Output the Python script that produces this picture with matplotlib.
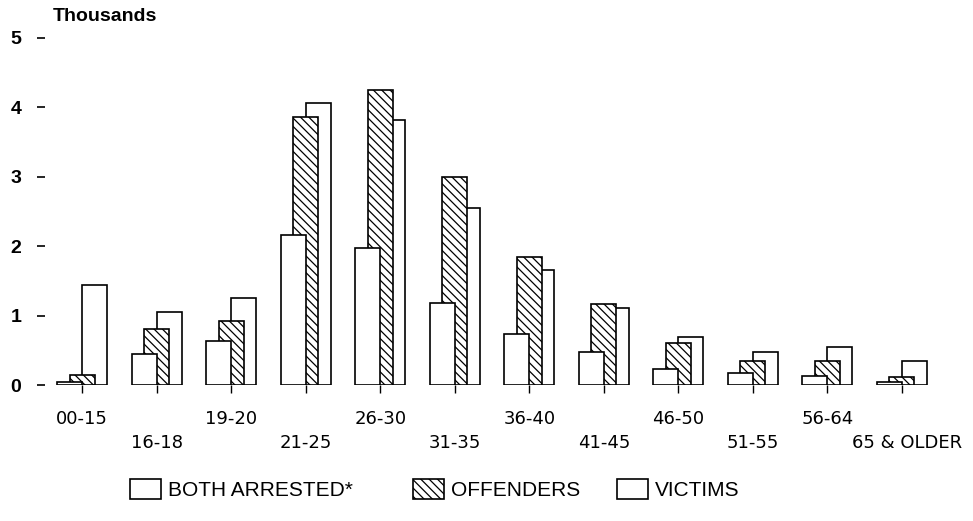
import matplotlib.pyplot as plt
from matplotlib.patches import Patch
from matplotlib.transforms import ScaledTranslation
import numpy as np

# age groups
ages = ['00-15', '16-18', '19-20', '21-25', '26-30', '31-35',
        '36-40', '41-45', '46-50', '51-55', '56-64', '65 & OLDER']

# thousands
both = [0.05, 0.45, 0.63, 2.16, 1.97, 1.18, 0.74, 0.47, 0.23, 0.17, 0.13, 0.05]
offenders = [0.15, 0.80, 0.92, 3.86, 4.25, 3.00, 1.84, 1.16, 0.60, 0.34, 0.34, 0.12]
victims = [1.44, 1.05, 1.25, 4.06, 3.82, 2.55, 1.65, 1.11, 0.69, 0.47, 0.55, 0.34]

x = np.arange(len(ages))
w = 0.335
hatch = '\\\\\\\\'

plt.rcParams['hatch.linewidth'] = 0.9

fig = plt.figure(figsize=(9.73, 5.21), dpi=100)
ax = fig.add_axes([45/973, 0.261, 915/973, 0.667])

# back to front: victims, offenders, both
ax.bar(x + w/2, victims, w, facecolor='white', edgecolor='black', lw=1.2, zorder=1)
ax.bar(x, offenders, w, facecolor='white', edgecolor='black', lw=1.2, hatch=hatch, zorder=2)
ax.bar(x - w/2, both, w, facecolor='white', edgecolor='black', lw=1.2, zorder=3)

ax.set_xlim(-0.5, 11.78)
ax.set_ylim(0, 5)
for s in ax.spines.values():
    s.set_visible(False)

ax.set_yticks([0, 1, 2, 3, 4, 5])
ax.set_yticklabels(['0', '1', '2', '3', '4', '5'], family='Liberation Sans',
                   fontweight='bold', fontsize=14)
ax.tick_params(axis='y', length=6, width=1.2, pad=11)

# alternating rows of age labels
ax.set_xticks(x[::2])
ax.set_xticklabels(ages[::2], family='DejaVu Sans', fontsize=13)
ax.set_xticks(x[1::2], minor=True)
ax.set_xticklabels(ages[1::2], minor=True, family='DejaVu Sans', fontsize=13)
ax.tick_params(axis='x', which='major', length=6, width=1, pad=12)
ax.tick_params(axis='x', which='minor', length=6, width=1, pad=29)
last = ax.get_xticklabels(minor=True)[-1]
last.set_transform(last.get_transform() + ScaledTranslation(0.05, 0, fig.dpi_scale_trans))

fig.text(53/973, 1 - 8/521, 'Thousands', family='Liberation Sans',
         fontweight='bold', fontsize=14, va='top', ha='left')

# legend, one entry at a time
entries = [
    (Patch(facecolor='white', edgecolor='black', lw=1.2), 'BOTH ARRESTED*', 130/973),
    (Patch(facecolor='white', edgecolor='black', lw=1.2, hatch=hatch), 'OFFENDERS', 413/973),
    (Patch(facecolor='white', edgecolor='black', lw=1.2), 'VICTIMS', 617/973),
]
for h, lab, xpos in entries:
    fig.legend(handles=[h], labels=[lab], loc='center left',
               bbox_to_anchor=(xpos, 0.06), frameon=False, borderpad=0,
               borderaxespad=0, handlelength=1.5, handleheight=1.1,
               handletextpad=0.3,
               prop={'family': 'Liberation Sans', 'size': 15})

fig.savefig('out.png', dpi=100)
